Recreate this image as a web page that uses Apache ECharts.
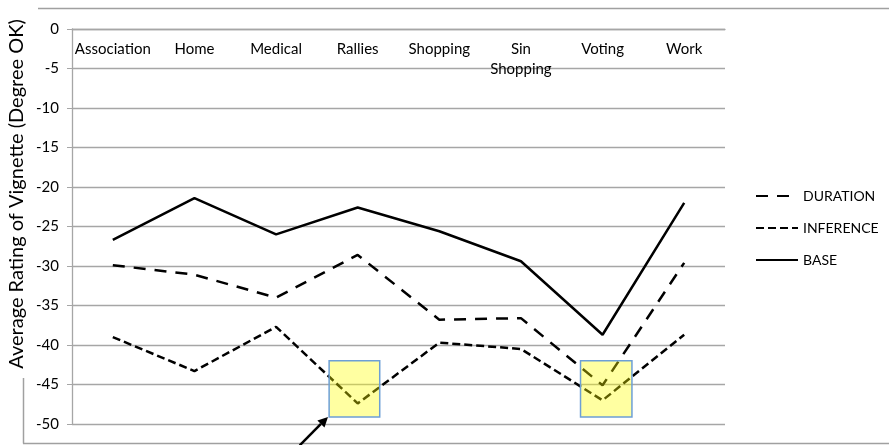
<!DOCTYPE html>
<html><head><meta charset="utf-8">
<script src="https://cdn.jsdelivr.net/npm/echarts@6/dist/echarts.min.js"></script>
<style>html,body{margin:0;padding:0;background:#fff}#c{width:889px;height:445px}</style>
</head><body><div id="c"></div>
<script>
var categories = ['Association','Home','Medical','Rallies','Shopping','Sin Shopping','Voting','Work'];
var duration  = [-29.9,-31.1,-34.0,-28.6,-36.8,-36.6,-45.1,-29.6];
var inference = [-39.0,-43.3,-37.7,-47.4,-39.7,-40.5,-47.0,-38.7];
var base      = [-26.7,-21.4,-26.0,-22.6,-25.6,-29.4,-38.7,-22.0];
var yTicks = {min:-50, max:0, step:5};
var axisTitle = 'Average Rating of Vignette (Degree OK)';
// annotation boxes [x0, y0, x1, y1] in category-index / value units
var boxes = [[2.65,-42.0,3.27,-49.1],[5.73,-42.0,6.36,-49.1]];
// arrow [xStart, yStart, xTip, yTip]
var arrows = [[2.29,-52.7,2.636,-49.1]];

var F = 'Lato, "Open Sans", sans-serif';
var grid = '#a6a6a6';
var chart = echarts.init(document.getElementById('c'));
function lineSeries(name, data, type, w){
  return {name:name, type:'line', data:data, symbol:'none', xAxisIndex:0,
    lineStyle:{color:'#000', width:w, type:type}, itemStyle:{color:'#000'}, z:2, animation:false};
}
chart.setOption({
  animation:false,
  grid:{left:72, right:164, top:29, bottom:21},
  legend:{orient:'vertical', left:755, top:189, padding:0, itemWidth:42, itemHeight:14, itemGap:18,
    data:['DURATION','INFERENCE','BASE'], itemStyle:{opacity:0},
    textStyle:{fontFamily:F, fontSize:14, color:'#000'}},
  xAxis:[{type:'category', data:categories, position:'top', boundaryGap:true,
      axisLine:{lineStyle:{color:grid, width:1.3}},
      axisTick:{inside:true, length:4, interval:0, lineStyle:{color:grid}},
      axisLabel:{inside:true, interval:0, margin:10, color:'#000', fontFamily:F, fontSize:15, lineHeight:20,
        formatter:function(v){return v.length>11 ? v.replace(' ','\n') : v;}},
      splitLine:{show:false}},
    {type:'value', min:-0.5, max:7.5, show:false}],
  yAxis:{type:'value', min:yTicks.min, max:yTicks.max, interval:yTicks.step,
    axisLine:{show:true, onZero:false, lineStyle:{color:grid, width:1.3}},
    axisTick:{show:true, length:5, lineStyle:{color:grid}},
    axisLabel:{margin:13, color:'#000', fontFamily:F, fontSize:15},
    splitLine:{lineStyle:{color:grid, width:1.3}}},
  graphic:[
    {type:'text', rotation:Math.PI/2, x:17, y:194, style:{text:axisTitle, fontFamily:F, fontSize:20, fill:'#000', align:'center', verticalAlign:'middle'}},
    {type:'line', shape:{x1:38, y1:8.5, x2:889, y2:8.5}, style:{stroke:'#a0a0a0', lineWidth:1.5}},
    {type:'line', shape:{x1:23.5, y1:378, x2:23.5, y2:443.5}, style:{stroke:'#a0a0a0', lineWidth:1.5}},
    {type:'line', shape:{x1:23, y1:443.5, x2:889, y2:443.5}, style:{stroke:'#a0a0a0', lineWidth:1.5}}
  ],
  series:[
    lineSeries('DURATION', duration, [12,9], 2.5),
    lineSeries('INFERENCE', inference, [8,4], 2.5),
    lineSeries('BASE', base, 'solid', 2.5),
    {type:'custom', xAxisIndex:1, data:boxes, z:5, clip:false, silent:true,
      renderItem:function(p, api){
        var a = api.coord([api.value(0), api.value(1)]);
        var b = api.coord([api.value(2), api.value(3)]);
        return {type:'rect', shape:{x:Math.min(a[0],b[0]), y:Math.min(a[1],b[1]), width:Math.abs(b[0]-a[0]), height:Math.abs(b[1]-a[1])},
          style:{fill:'rgba(255,255,0,0.37)', stroke:'#6d9fd6', lineWidth:1.5}};
      }},
    {type:'custom', xAxisIndex:1, data:arrows, z:6, clip:false, silent:true,
      renderItem:function(p, api){
        var a = api.coord([api.value(0), api.value(1)]);
        var b = api.coord([api.value(2), api.value(3)]);
        var dx=b[0]-a[0], dy=b[1]-a[1], L=Math.sqrt(dx*dx+dy*dy), ux=dx/L, uy=dy/L;
        var hl=10, hw=5;
        var bx=b[0]-ux*hl, by=b[1]-uy*hl;
        return {type:'group', children:[
          {type:'line', shape:{x1:a[0], y1:a[1], x2:bx, y2:by}, style:{stroke:'#000', lineWidth:2.5}},
          {type:'polygon', shape:{points:[[b[0],b[1]],[bx-uy*hw, by+ux*hw],[bx+uy*hw, by-ux*hw]]}, style:{fill:'#000'}}
        ]};
      }}
  ]
});
</script></body></html>
